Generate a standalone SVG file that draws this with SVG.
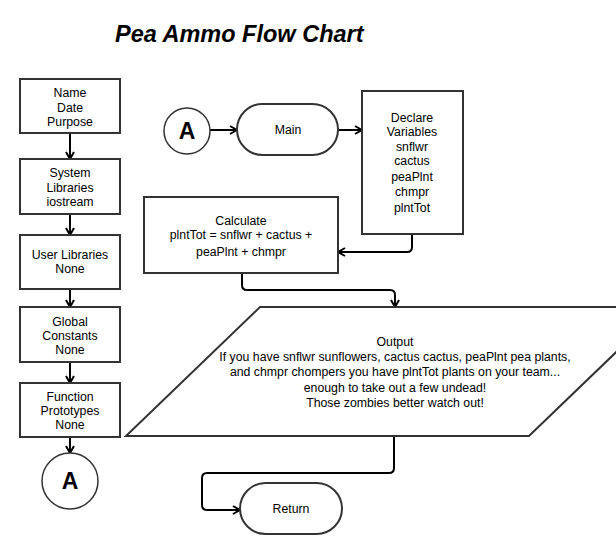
<svg xmlns="http://www.w3.org/2000/svg" width="616" height="554" viewBox="0 0 616 554">
<defs>
<style>
.box{fill:#fff;stroke:#333;stroke-width:2}
.circ{fill:#fff;stroke:#333;stroke-width:1.5}
.t{font-family:"Liberation Sans",Arial,sans-serif;font-size:12.3px;fill:#000;text-anchor:middle}
.big{font-family:"Liberation Sans",Arial,sans-serif;font-size:23px;font-weight:bold;fill:#000;text-anchor:middle}
.title{font-family:"Liberation Sans",Arial,sans-serif;font-size:23.5px;font-weight:bold;font-style:italic;fill:#000}
.c{fill:none;stroke:#000;stroke-width:2;marker-end:url(#ah)}
</style>
<marker id="ah" viewBox="0 0 10 10" refX="9" refY="5" markerWidth="10" markerHeight="10" markerUnits="userSpaceOnUse" orient="auto">
<path d="M2,1 L9,5 L2,9" fill="none" stroke="#000" stroke-width="2"/>
</marker>
</defs>
<rect width="616" height="554" fill="#fff"/>
<text class="title" x="115" y="42">Pea Ammo Flow Chart</text>

<g id="connectors">
<path class="c" d="M70,133 V159"/>
<path class="c" d="M70,214 V235"/>
<path class="c" d="M70,289 V307"/>
<path class="c" d="M70,362 V383"/>
<path class="c" d="M70,437 V453"/>
<path class="c" d="M210,130 H237"/>
<path class="c" d="M338,130 H362"/>
<path class="c" d="M412,234 V247 Q412,252 407,252 H338"/>
<path class="c" d="M242,273 V285 Q242,290 247,290 H390 Q395,290 395,295 V307"/>
<path class="c" d="M394,436 V468 Q394,473 389,473 H207 Q202,473 202,478 V505 Q202,510 207,510 H240"/>
</g>

<g id="header">
<rect class="box" x="20" y="79" width="100" height="54"/>
<text class="t" x="70" y="97">Name</text>
<text class="t" x="70" y="112">Date</text>
<text class="t" x="70" y="126">Purpose</text>
</g>
<g id="syslibs">
<rect class="box" x="20" y="159" width="100" height="55"/>
<text class="t" x="70" y="177">System</text>
<text class="t" x="70" y="192">Libraries</text>
<text class="t" x="70" y="206">iostream</text>
</g>
<g id="userlibs">
<rect class="box" x="20" y="235" width="100" height="54"/>
<text class="t" x="70" y="259">User Libraries</text>
<text class="t" x="70" y="273">None</text>
</g>
<g id="globals">
<rect class="box" x="20" y="307" width="100" height="55"/>
<text class="t" x="70" y="326">Global</text>
<text class="t" x="70" y="340">Constants</text>
<text class="t" x="70" y="354">None</text>
</g>
<g id="prototypes">
<rect class="box" x="20" y="383" width="100" height="54"/>
<text class="t" x="70" y="401">Function</text>
<text class="t" x="70" y="415">Prototypes</text>
<text class="t" x="70" y="429">None</text>
</g>
<g id="connA1">
<circle class="circ" cx="70" cy="481" r="28"/>
<text class="big" x="70" y="489">A</text>
</g>
<g id="connA2">
<circle class="circ" cx="187" cy="131" r="23"/>
<text class="big" x="187" y="139">A</text>
</g>
<g id="main">
<rect class="box" x="237" y="104" width="101" height="51" rx="25.5" ry="25.5"/>
<text class="t" x="288" y="134">Main</text>
</g>
<g id="declare">
<rect class="box" x="362" y="91" width="101" height="143"/>
<text class="t" x="412" y="122">Declare</text>
<text class="t" x="412" y="136">Variables</text>
<text class="t" x="412" y="151">snflwr</text>
<text class="t" x="412" y="165">cactus</text>
<text class="t" x="412" y="181">peaPlnt</text>
<text class="t" x="412" y="196">chmpr</text>
<text class="t" x="412" y="212">plntTot</text>
</g>
<g id="calculate">
<rect class="box" x="144" y="197" width="194" height="76"/>
<text class="t" x="241" y="225">Calculate</text>
<text class="t" x="241" y="239">plntTot = snflwr + cactus +</text>
<text class="t" x="241" y="256">peaPlnt + chmpr</text>
</g>
<g id="output">
<polygon class="box" points="260,307 663,307 529,436 126,436"/>
<text class="t" x="395" y="346">Output</text>
<text class="t" x="395" y="361">If you have snflwr sunflowers, cactus cactus, peaPlnt pea plants,</text>
<text class="t" x="395" y="376">and chmpr chompers you have plntTot plants on your team...</text>
<text class="t" x="395" y="392">enough to take out a few undead!</text>
<text class="t" x="395" y="407">Those zombies better watch out!</text>
</g>
<g id="return">
<rect class="box" x="240" y="483" width="102" height="51" rx="25.5" ry="25.5"/>
<text class="t" x="291" y="513">Return</text>
</g>
</svg>
